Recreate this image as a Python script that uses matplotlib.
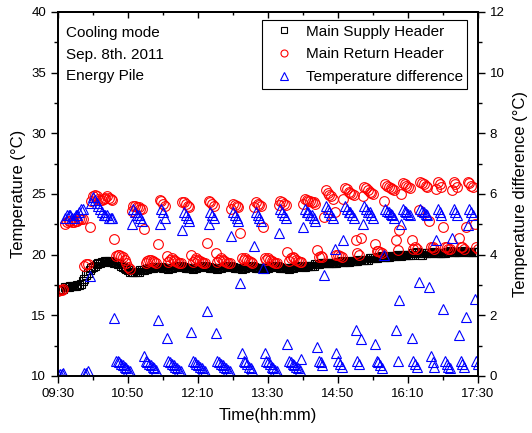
import numpy as np
import matplotlib
matplotlib.use('Agg')
import matplotlib.pyplot as plt
from matplotlib.ticker import MultipleLocator, NullFormatter

plt.rcParams['font.family'] = ['Liberation Sans', 'DejaVu Sans']

# sampling time in minutes after 09:30 (2-minute records)
minutes = np.arange(0, 481, 2)

supply = [
    17.1, 17.1, 17.2, 17.2, 17.3, 17.3, 17.3, 17.4, 17.4, 17.4,
    17.4, 17.5, 17.5, 17.6, 17.8, 18.0, 18.3, 18.5, 18.7, 18.9,
    19.0, 19.1, 19.2, 19.3, 19.3, 19.4, 19.4, 19.5, 19.5, 19.5,
    19.4, 19.4, 19.3, 19.3, 19.2, 19.2, 19.1, 19.0, 18.9, 18.8,
    18.7, 18.6, 18.6, 18.6, 18.6, 18.6, 18.6, 18.7, 18.7, 18.7,
    18.8, 18.8, 18.9, 18.9, 18.9, 19.0, 19.0, 19.0, 19.0, 19.0,
    18.9, 18.9, 18.9, 18.8, 18.9, 18.9, 19.0, 19.0, 19.1, 19.1,
    19.1, 19.0, 19.0, 18.9, 18.9, 18.9, 18.9, 18.8, 18.9, 18.9,
    19.0, 19.0, 19.1, 19.1, 19.1, 19.0, 19.0, 18.9, 18.9, 18.9,
    18.9, 18.8, 18.9, 18.9, 19.0, 19.0, 19.1, 19.1, 19.1, 19.0,
    19.0, 18.9, 18.9, 18.9, 18.9, 18.8, 18.9, 18.9, 19.0, 19.0,
    19.1, 19.1, 19.0, 18.9, 18.9, 18.9, 18.9, 18.9, 18.8, 18.9,
    18.9, 19.0, 19.0, 19.1, 19.1, 19.1, 19.0, 18.9, 18.9, 18.9,
    18.9, 18.9, 18.8, 18.9, 18.9, 19.0, 19.0, 19.1, 19.1, 19.1,
    19.0, 19.0, 19.1, 19.1, 19.1, 19.1, 19.1, 19.2, 19.2, 19.2,
    19.3, 19.3, 19.3, 19.3, 19.3, 19.3, 19.3, 19.3, 19.3, 19.3,
    19.4, 19.4, 19.5, 19.4, 19.4, 19.4, 19.4, 19.5, 19.5, 19.5,
    19.5, 19.5, 19.6, 19.6, 19.6, 19.6, 19.6, 19.6, 19.7, 19.7,
    19.7, 19.7, 19.7, 19.8, 19.8, 19.9, 19.8, 19.8, 19.8, 19.8,
    19.9, 19.9, 19.9, 19.9, 20.0, 20.0, 19.9, 20.0, 20.0, 20.0,
    20.0, 20.0, 20.0, 20.1, 20.1, 20.2, 20.1, 20.0, 20.0, 20.1,
    20.1, 20.1, 20.1, 20.1, 20.2, 20.2, 20.1, 20.1, 20.1, 20.1,
    20.1, 20.1, 20.2, 20.2, 20.3, 20.2, 20.2, 20.2, 20.2, 20.2,
    20.2, 20.3, 20.3, 20.2, 20.2, 20.2, 20.2, 20.2, 20.2, 20.2,
    20.2,
]

ret = [
    17.0, 17.1, 17.1, 17.2, 22.5, 22.7, 22.8, 22.8, 22.7, 22.7,
    22.8, 22.8, 22.9, 22.9, 22.9, 19.1, 19.2, 19.2, 22.3, 24.4,
    24.8, 24.9, 24.8, 24.6, 24.5, 24.5, 24.6, 24.7, 24.8, 24.7,
    24.6, 24.5, 21.3, 19.9, 20.0, 20.0, 19.9, 19.8, 19.6, 19.3,
    19.0, 18.8, 23.6, 24.0, 24.0, 23.9, 23.9, 23.8, 23.8, 22.1,
    19.3, 19.5, 19.6, 19.6, 19.5, 19.4, 19.3, 20.9, 24.5, 24.4,
    24.2, 24.0, 19.9, 19.4, 19.6, 19.7, 19.6, 19.5, 19.4, 19.3,
    19.3, 24.3, 24.3, 24.2, 24.0, 23.9, 20.0, 19.4, 19.6, 19.7,
    19.6, 19.5, 19.4, 19.3, 19.3, 20.95, 24.4, 24.3, 24.2, 24.0,
    20.1, 19.4, 19.6, 19.7, 19.6, 19.5, 19.4, 19.3, 19.3, 23.8,
    24.2, 24.1, 24.0, 23.9, 21.8, 19.7, 19.6, 19.7, 19.6, 19.5,
    19.4, 19.3, 23.9, 24.3, 24.2, 24.1, 24.0, 22.3, 19.7, 19.6,
    19.7, 19.6, 19.5, 19.4, 19.3, 19.3, 24.1, 24.4, 24.3, 24.2,
    24.1, 20.2, 19.5, 19.7, 19.8, 19.7, 19.6, 19.5, 19.4, 19.4,
    24.2, 24.6, 24.5, 24.4, 24.4, 24.3, 24.3, 24.2, 20.4, 19.8,
    19.9, 19.8, 23.1, 25.3, 25.1, 24.9, 24.8, 24.6, 23.5, 20.0,
    20.0, 19.9, 19.8, 24.6, 25.5, 25.4, 25.2, 25.1, 25.0, 24.9,
    21.2, 20.1, 20.0, 21.4, 24.8, 25.6, 25.5, 25.3, 25.2, 25.1,
    25.0, 20.9, 20.3, 20.3, 20.2, 20.1, 24.4, 25.8, 25.7, 25.6,
    25.5, 25.4, 25.3, 21.2, 20.4, 22.0, 25.0, 25.9, 25.8, 25.7,
    25.6, 25.5, 21.2, 20.5, 20.6, 20.5, 23.7, 26.0, 25.9, 25.8,
    25.7, 25.6, 22.8, 20.6, 20.6, 20.5, 25.4, 26.0, 25.8, 25.6,
    22.3, 20.6, 20.6, 20.5, 20.5, 25.3, 26.0, 25.8, 25.6, 21.4,
    20.6, 20.6, 20.5, 22.3, 26.0, 25.9, 25.7, 25.6, 22.5, 20.6,
    20.5,
]

diff = [
    0.05, 0.05, 0.05, 0.1, 5.2, 5.3, 5.3, 5.3, 5.2, 5.2,
    5.3, 5.3, 5.4, 5.5, 5.5, 0.1, 0.1, 0.15, 3.3, 5.7,
    5.9, 5.8, 5.7, 5.6, 5.5, 5.4, 5.3, 5.3, 5.3, 5.2,
    5.2, 5.2, 1.9, 0.5, 0.5, 0.45, 0.4, 0.35, 0.3, 0.25,
    0.2, 0.15, 5.0, 5.5, 5.4, 5.3, 5.3, 5.2, 5.1, 0.66,
    0.5, 0.45, 0.4, 0.35, 0.3, 0.25, 0.2, 1.85, 5.0, 5.5,
    5.4, 5.2, 1.24, 0.5, 0.45, 0.4, 0.35, 0.3, 0.25, 0.2,
    0.15, 4.8, 5.4, 5.3, 5.2, 5.1, 1.46, 0.5, 0.45, 0.4,
    0.35, 0.3, 0.25, 0.2, 0.15, 2.14, 5.0, 5.4, 5.3, 5.2,
    1.43, 0.5, 0.45, 0.4, 0.35, 0.3, 0.25, 0.2, 0.15, 4.6,
    5.4, 5.3, 5.2, 5.1, 3.06, 0.75, 0.5, 0.45, 0.4, 0.3,
    0.25, 0.2, 4.3, 5.4, 5.3, 5.2, 5.1, 3.55, 0.75, 0.5,
    0.45, 0.4, 0.3, 0.25, 0.2, 0.15, 4.7, 5.5, 5.4, 5.3,
    5.2, 1.04, 0.5, 0.45, 0.4, 0.35, 0.3, 0.25, 0.2, 0.55,
    4.9, 5.5, 5.4, 5.4, 5.3, 5.3, 5.2, 5.1, 0.95, 0.5,
    0.45, 0.35, 3.33, 5.6, 5.5, 5.4, 5.3, 5.2, 4.2, 0.77,
    0.5, 0.4, 0.3, 4.5, 5.6, 5.5, 5.4, 5.4, 5.3, 5.2,
    1.52, 0.5, 0.4, 1.21, 5.0, 5.6, 5.5, 5.4, 5.4, 5.3,
    5.2, 1.05, 0.5, 0.45, 0.35, 0.25, 4.0, 5.5, 5.45, 5.4,
    5.35, 5.3, 5.2, 1.52, 0.5, 2.5, 5.0, 5.5, 5.45, 5.4,
    5.35, 5.3, 1.24, 0.5, 0.4, 0.3, 3.1, 5.5, 5.45, 5.4,
    5.35, 5.3, 2.92, 0.66, 0.45, 0.3, 4.5, 5.5, 5.4, 5.3,
    2.2, 0.5, 0.4, 0.3, 0.25, 4.55, 5.5, 5.4, 5.3, 1.35,
    0.5, 0.4, 0.3, 1.94, 4.97, 5.5, 5.4, 5.3, 2.53, 0.5,
    0.4,
]

tick_minutes = [0, 80, 160, 240, 320, 400, 480]
tick_labels = ['09:30', '10:50', '12:10', '13:30', '14:50', '16:10', '17:30']
note_lines = ['Cooling mode', 'Sep. 8th. 2011', 'Energy Pile']

fig = plt.figure(figsize=(5.32, 4.33), dpi=100)
ax = fig.add_axes([58 / 532, 57 / 433, 420 / 532, 364 / 433])

h1, = ax.plot(minutes, supply, ls='none', marker='s', ms=5.5, mfc='none',
              mec='black', mew=0.8, label='Main Supply Header')
h2, = ax.plot(minutes, ret, ls='none', marker='o', ms=7, mfc='none',
              mec='red', mew=0.8, label='Main Return Header')
ax.set_xlim(0, 480)
ax.set_ylim(10, 40)
ax.set_xticks(tick_minutes)
ax.set_xticklabels(tick_labels)
ax.xaxis.set_minor_locator(MultipleLocator(40))
ax.yaxis.set_major_locator(MultipleLocator(5))
ax.yaxis.set_minor_locator(MultipleLocator(2.5))
ax.tick_params(which='major', direction='out', length=5, width=1.0, labelsize=9.5)
ax.tick_params(which='minor', direction='out', length=3, width=1.0)
ax.tick_params(axis='y', right=False)
ax.set_xlabel('Time(hh:mm)', fontsize=12, labelpad=6)
ax.set_ylabel('Temperature (°C)', fontsize=12, labelpad=4)

top = ax.secondary_xaxis('top')
top.set_xticks(tick_minutes)
top.xaxis.set_minor_locator(MultipleLocator(40))
top.tick_params(which='major', direction='in', length=4, width=1.0, labeltop=False)
top.tick_params(which='minor', direction='in', length=2.5, width=1.0)
top.xaxis.set_major_formatter(NullFormatter())
top.spines['top'].set_linewidth(1.3)

ax2 = ax.twinx()
h3, = ax2.plot(minutes, diff, ls='none', marker='^', ms=7.5, mfc='none',
               mec='blue', mew=0.8, label='Temperature difference')
ax2.set_ylim(0, 12)
ax2.yaxis.set_major_locator(MultipleLocator(2))
ax2.yaxis.set_minor_locator(MultipleLocator(1))
ax2.tick_params(which='major', direction='out', length=5, width=1.0, labelsize=9.5)
ax2.tick_params(which='minor', direction='out', length=3, width=1.0)
ax2.set_ylabel('Temperature difference (°C)', fontsize=12, labelpad=6)

for a in (ax, ax2):
    for s in a.spines.values():
        s.set_linewidth(1.3)

ax.text(0.018, 0.962, '\n'.join(note_lines), transform=ax.transAxes,
        ha='left', va='top', fontsize=11, linespacing=1.7)

leg = ax2.legend(handles=[h1, h2, h3], loc='upper left',
                 bbox_to_anchor=(0.486, 0.978), fontsize=11, markerscale=0.72,
                 frameon=True, fancybox=False, framealpha=1, edgecolor='black',
                 borderpad=0.3, labelspacing=0.58, handlelength=2.2,
                 handletextpad=0.35, borderaxespad=0)
leg.get_frame().set_linewidth(0.8)

fig.savefig('out.png', dpi=100, facecolor='white')
